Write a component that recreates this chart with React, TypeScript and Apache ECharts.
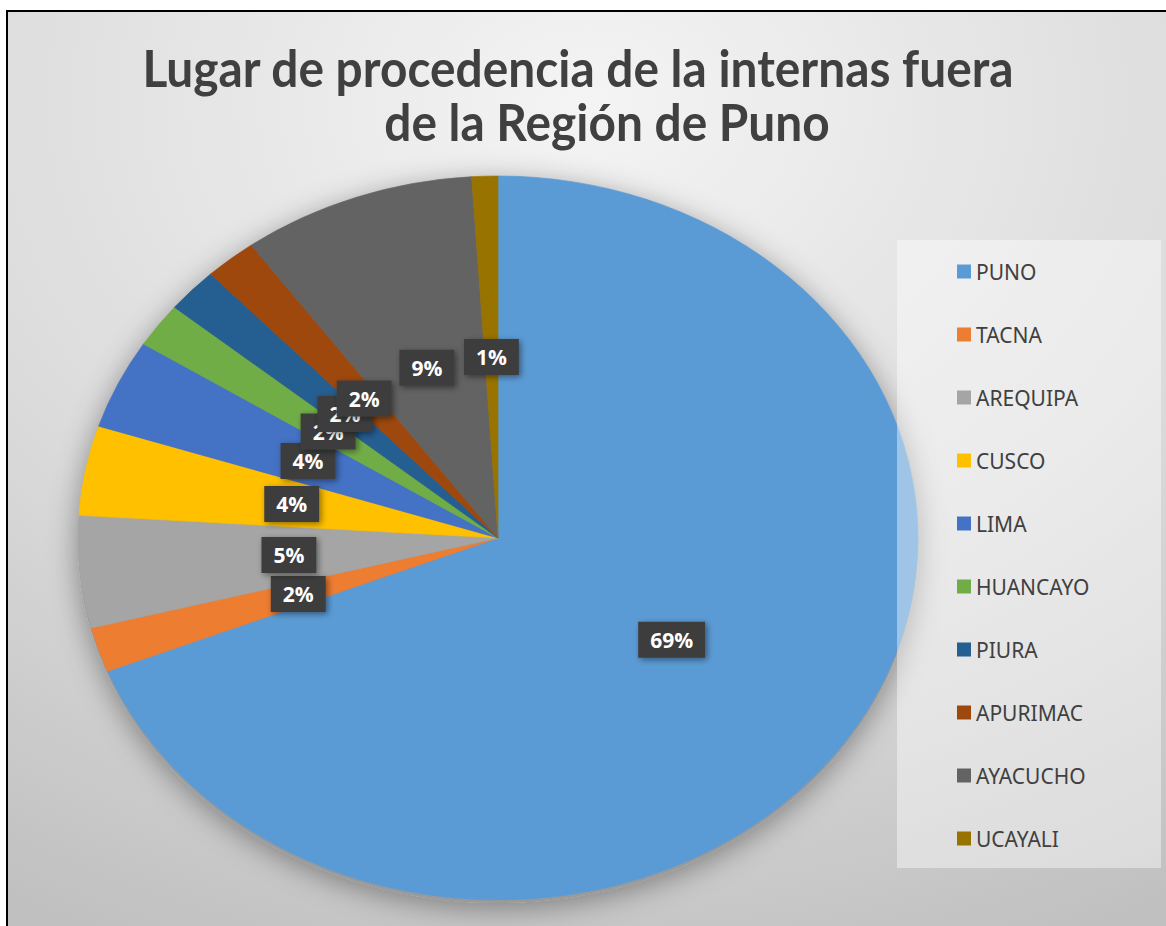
import React, { useEffect, useRef } from "react";
import * as echarts from "echarts";

const titleLines = ["Lugar de procedencia de la internas fuera", "de la Región de Puno"];
const categories = ["PUNO", "TACNA", "AREQUIPA", "CUSCO", "LIMA", "HUANCAYO", "PIURA", "APURIMAC", "AYACUCHO", "UCAYALI"];
const values = [69, 2, 5, 4, 4, 2, 2, 2, 9, 1];
const colors = ["#5B9BD5", "#ED7D31", "#A5A5A5", "#FFC000", "#4472C4", "#70AD47", "#255E91", "#9E480E", "#636363", "#997300"];

const W = 1166;
const H = 926;
const CX = 498;
const CY = 538;
const RY = 362;
const RX = 420;

export default function App() {
  const ref = useRef<HTMLDivElement>(null);

  useEffect(() => {
    if (!ref.current) return;
    const chart = echarts.init(ref.current, undefined, { renderer: "svg" });
    const total = values.reduce((a, b) => a + b, 0);
    const starts: number[] = [];
    let acc = 0;
    values.forEach((v) => {
      starts.push(acc);
      acc += v;
    });
    const angle = (v: number) => -Math.PI / 2 + (2 * Math.PI * v) / total;

    const sliceSeries = categories.map((name, i) => ({
      type: "custom",
      name,
      coordinateSystem: "none",
      z: 2,
      silent: true,
      itemStyle: { color: colors[i] },
      data: [[starts[i], values[i]]],
      renderItem: (_p: any, api: any) => {
        const s = api.value(0);
        const v = api.value(1);
        return {
          type: "sector",
          x: CX,
          y: CY,
          scaleX: RX / RY,
          shape: { cx: 0, cy: 0, r: RY, r0: 0, startAngle: angle(s), endAngle: angle(s + v), clockwise: true },
          style: { fill: colors[i], stroke: colors[i], lineWidth: 0.6 },
        };
      },
    }));

    const labelSeries = {
      type: "custom",
      name: "labels",
      coordinateSystem: "none",
      z: 5,
      silent: true,
      data: categories.map((_c, i) => [starts[i], values[i]]),
      renderItem: (_p: any, api: any) => {
        const s = api.value(0);
        const v = api.value(1);
        const mid = angle(s + v / 2);
        const x = CX + 0.5 * RX * Math.cos(mid);
        const y = CY + 0.5 * RY * Math.sin(mid);
        return {
          type: "text",
          x,
          y,
          style: {
            text: Math.round((v / total) * 100) + "%",
            fill: "#ffffff",
            fontSize: 21,
            fontWeight: "bold",
            fontFamily: "Open Sans",
            align: "center",
            verticalAlign: "middle",
            backgroundColor: "#3d3d3d",
            padding: [8, 12, 7, 12],
            shadowBlur: 6,
            shadowColor: "rgba(0,0,0,0.45)",
            shadowOffsetX: 2,
            shadowOffsetY: 2,
          },
        };
      },
    };

    const titleStyle = {
      fontSize: 52,
      fontWeight: "bold",
      fontFamily: "Lato",
      fill: "#404040",
      align: "center",
      verticalAlign: "middle",
    };

    chart.setOption({
      animation: false,
      backgroundColor: "#ffffff",
      color: colors,
      legend: {
        data: categories,
        orient: "vertical",
        left: 957,
        top: 261,
        padding: 0,
        itemWidth: 14,
        itemHeight: 14,
        itemGap: 42,
        icon: "rect",
        z: 20,
        selectedMode: false,
        textStyle: { fontSize: 21, lineHeight: 21, color: "#404040", fontFamily: "Noto Sans" },
      },
      graphic: {
        elements: [
          {
            type: "rect",
            z: 0,
            silent: true,
            shape: { x: 8, y: 12, width: W - 8, height: H - 12 },
            style: {
              fill: new echarts.graphic.RadialGradient(0.5, 0.1, 1, [
                { offset: 0, color: "#f4f4f4" },
                { offset: 0.6, color: "#dadada" },
                { offset: 1, color: "#c0c0c0" },
              ]),
            },
          },
          {
            type: "ellipse",
            z: 1,
            silent: true,
            shape: { cx: CX, cy: CY + 3, rx: RX, ry: RY },
            style: { fill: "#9a9a9a", shadowBlur: 30, shadowColor: "rgba(0,0,0,0.4)", shadowOffsetY: 4 },
          },
          {
            type: "rect",
            z: 10,
            silent: true,
            shape: { x: 897, y: 240, width: 264, height: 628 },
            style: { fill: "rgba(255,255,255,0.42)" },
          },
          {
            type: "line",
            z: 11,
            silent: true,
            shape: { x1: 7, y1: 11, x2: W, y2: 11 },
            style: { stroke: "#000000", lineWidth: 2 },
          },
          {
            type: "line",
            z: 11,
            silent: true,
            shape: { x1: 7, y1: 10, x2: 7, y2: H },
            style: { stroke: "#000000", lineWidth: 2 },
          },
          {
            type: "text",
            z: 11,
            silent: true,
            x: 578,
            y: 67,
            scaleX: 0.92,
            style: { ...titleStyle, text: titleLines[0] },
          },
          {
            type: "text",
            z: 11,
            silent: true,
            x: 607,
            y: 121,
            scaleX: 0.92,
            style: { ...titleStyle, text: titleLines[1] },
          },
        ],
      },
      series: [...sliceSeries, labelSeries],
    });
    return () => chart.dispose();
  }, []);

  return <div ref={ref} style={{ position: "fixed", left: 0, top: 0, width: W, height: H }} />;
}
